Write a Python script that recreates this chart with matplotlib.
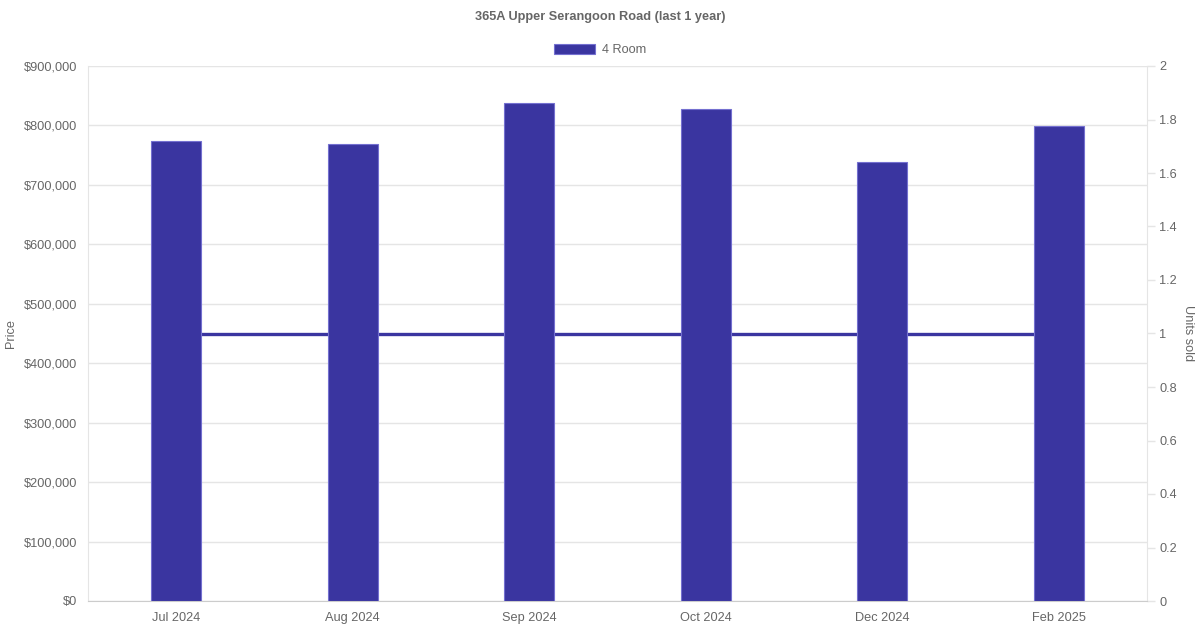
import matplotlib
matplotlib.use("Agg")
import matplotlib.pyplot as plt
from matplotlib.ticker import FuncFormatter, MultipleLocator
from matplotlib.patches import Patch

plt.rcParams['font.family'] = ['Liberation Sans', 'DejaVu Sans']

months = ["Jul 2024", "Aug 2024", "Sep 2024", "Oct 2024", "Dec 2024", "Feb 2025"]
prices = [774000, 769000, 838000, 828000, 739000, 799000]
units_sold = [1, 1, 1, 1, 1, 1]

bar_color = "#3a35a0"
edge_color = "#7470d0"
text_color = "#666666"
grid_color = "#e5e5e5"

fig = plt.figure(figsize=(12, 6.3), dpi=100)
ax = fig.add_axes([88/1200, 29/630, (1147-88)/1200, (601-66)/630])
ax2 = ax.twinx()

x = list(range(len(months)))

# line behind bars
ax2.set_zorder(ax.get_zorder() - 1)
ax.patch.set_visible(False)
ax2.plot(x, units_sold, color=bar_color, linewidth=2.4, solid_capstyle='butt')

ax.bar(x, prices, width=0.283, color=bar_color, edgecolor=edge_color, linewidth=0.8, zorder=3)

ax.set_xlim(-0.5, len(months) - 0.5)
ax.set_ylim(0, 900000)
ax.yaxis.set_major_locator(MultipleLocator(100000))
ax.yaxis.set_major_formatter(FuncFormatter(lambda v, p: f"${v:,.0f}"))
ax2.set_ylim(0, 2)
ax2.yaxis.set_major_locator(MultipleLocator(0.2))
ax2.yaxis.set_major_formatter(FuncFormatter(lambda v, p: f"{v:g}"))

ax.set_xticks(x)
ax.set_xticklabels(months)

ax.grid(axis='y', color=grid_color, linewidth=1)
ax.set_axisbelow(True)

for a in (ax, ax2):
    for s in a.spines.values():
        s.set_visible(False)
ax.spines['left'].set_visible(True)
ax.spines['left'].set_color(grid_color)
ax.spines['bottom'].set_visible(True)
ax.spines['bottom'].set_color("#cccccc")
ax2.spines['right'].set_visible(True)
ax2.spines['right'].set_color(grid_color)

ax.tick_params(axis='y', length=0, pad=8, labelcolor=text_color, labelsize=9.2)
ax.tick_params(axis='x', length=0, pad=8, labelcolor=text_color, labelsize=9.2)
ax2.tick_params(axis='y', length=6, width=1, color=grid_color, pad=3, labelcolor=text_color, labelsize=9.2)

ax.set_ylabel("Price", color=text_color, fontsize=9.2, va='center')
ax.yaxis.set_label_coords(-(88 - 11) / 1059, 0.5)
ax2.set_ylabel("Units sold", color=text_color, fontsize=9.2, rotation=270, va='center')
ax2.yaxis.set_label_coords(1 + (1188 - 1147) / 1059, 0.5)

fig.text(0.5, 1 - 17/630, "365A Upper Serangoon Road (last 1 year)", ha='center', va='center',
         fontsize=9.2, fontweight='bold', color=text_color)

handle = Patch(facecolor=bar_color, edgecolor=edge_color, linewidth=0.8)
fig.legend([handle], ["4 Room"], loc='center', bbox_to_anchor=(0.5, 1 - 50/630), frameon=False,
           fontsize=9.2, labelcolor=text_color, handlelength=3.2, handleheight=0.9, handletextpad=0.5)

fig.savefig("out.png", dpi=100, facecolor='white')
